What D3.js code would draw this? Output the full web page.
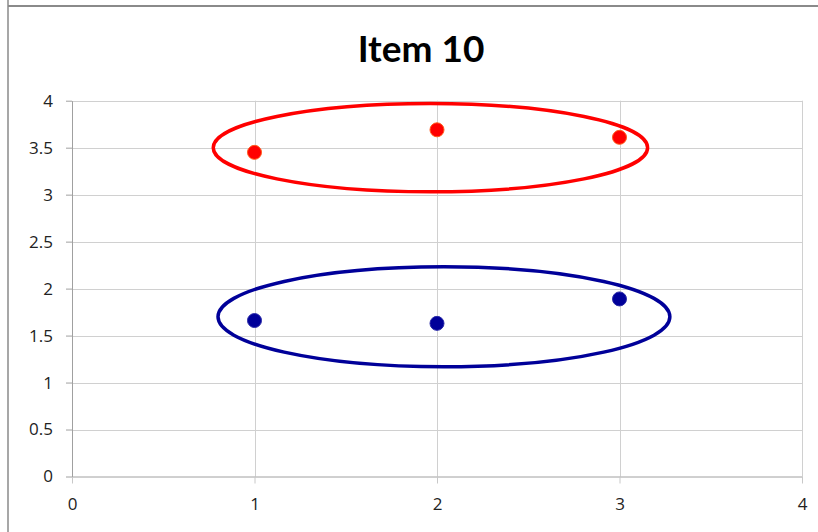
<!DOCTYPE html>
<html>
<head>
<meta charset="utf-8">
<script src="https://cdn.jsdelivr.net/npm/d3@7"></script>
<style>
  html, body { margin: 0; padding: 0; background: #fff; }
  svg { display: block; }
  svg text.lbl { font-family: "Open Sans", Lato, sans-serif; font-size: 17px; }
</style>
</head>
<body>
<svg id="chart" width="818" height="532"></svg>
<script>
// ---- data ----
const title = "Item 10";
const xValues = [1, 2, 3];
const redValues = [3.45, 3.69, 3.61];
const blueValues = [1.66, 1.63, 1.89];
const xTicks = [0, 1, 2, 3, 4];
const yTicks = [0, 0.5, 1, 1.5, 2, 2.5, 3, 3.5, 4];
// annotation ellipses: [cx, cy, rx, ry] in data units
const redEllipse = [1.964, 3.50, 1.19, 0.47];
const blueEllipse = [2.038, 1.70, 1.238, 0.532];

// ---- layout ----
const svg = d3.select("#chart");
const X0 = 72, X1 = 802, Y0 = 476.5, Y1 = 100.7;
const x = d3.scaleLinear().domain([0, 4]).range([X0, X1]);
const y = d3.scaleLinear().domain([0, 4]).range([Y0, Y1]);

// outer frame lines
svg.append("line").attr("x1", 8).attr("x2", 818).attr("y1", 6).attr("y2", 6)
  .attr("stroke", "#8a8a8a").attr("stroke-width", 2);
svg.append("line").attr("x1", 8).attr("x2", 8).attr("y1", 0).attr("y2", 532)
  .attr("stroke", "#8a8a8a").attr("stroke-width", 1.5);

// title
svg.append("text").attr("x", 421).attr("y", 62).attr("text-anchor", "middle")
  .style("font-family", "Lato, 'Open Sans', sans-serif").style("font-weight", "bold")
  .style("font-size", "37px").attr("fill", "#000").text(title);

// gridlines
const grid = svg.append("g");
grid.selectAll("line.h").data(yTicks.filter(d => d > 0)).join("line")
  .attr("x1", X0).attr("x2", X1)
  .attr("y1", d => Math.round(y(d)) + 0.5).attr("y2", d => Math.round(y(d)) + 0.5)
  .attr("stroke", "#d0d0d0").attr("stroke-width", 1);
grid.selectAll("line.v").data(xTicks.filter(d => d > 0)).join("line")
  .attr("y1", Y1).attr("y2", Y0)
  .attr("x1", d => Math.round(x(d)) + 0.5).attr("x2", d => Math.round(x(d)) + 0.5)
  .attr("stroke", "#d0d0d0").attr("stroke-width", 1);

// axes
const xAxis = d3.axisBottom(x).tickValues(xTicks).tickSize(7).tickSizeOuter(0).tickPadding(14)
  .tickFormat(d3.format("d"));
const gx = svg.append("g").attr("transform", `translate(0,${Y0})`).call(xAxis);
const yAxis = d3.axisLeft(y).tickValues(yTicks).tickSize(6).tickSizeOuter(0).tickPadding(13)
  .tickFormat(d => d3.format("")(d));
const gy = svg.append("g").attr("transform", `translate(${X0},0)`).call(yAxis);
[gx, gy].forEach(g => {
  g.attr("font-size", null).attr("font-family", null);
  g.selectAll(".tick text").classed("lbl", true).attr("fill", "#222");
  g.select(".domain").attr("stroke", "#a0a0a0");
  g.selectAll(".tick line").attr("stroke", "#a0a0a0");
});
gx.selectAll(".tick line").attr("stroke", "#c8c8c8");

// points
function drawPoints(vals, fill, stroke) {
  svg.append("g").selectAll("circle").data(xValues.map((xv, i) => [xv, vals[i]])).join("circle")
    .attr("cx", d => x(d[0])).attr("cy", d => y(d[1])).attr("r", 7)
    .attr("fill", fill).attr("stroke", stroke).attr("stroke-width", 1);
}
drawPoints(redValues, "#ff0000", "#ff5a1a");
drawPoints(blueValues, "#000099", "#2a2aa8");

// ellipses
function drawEllipse(e, color) {
  svg.append("ellipse")
    .attr("cx", x(e[0])).attr("cy", y(e[1]))
    .attr("rx", x(e[2]) - x(0)).attr("ry", y(0) - y(e[3]))
    .attr("fill", "none").attr("stroke", color).attr("stroke-width", 3.5);
}
drawEllipse(redEllipse, "#ff0000");
drawEllipse(blueEllipse, "#000099");
</script>
</body>
</html>
